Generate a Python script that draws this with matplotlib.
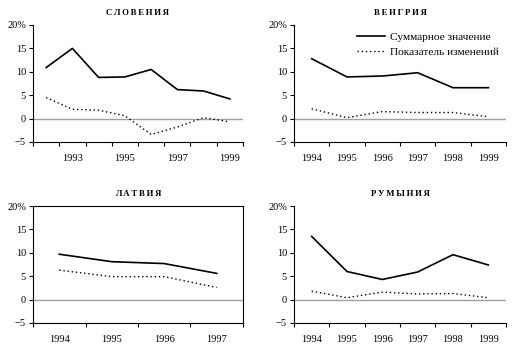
import matplotlib
matplotlib.use("Agg")
import matplotlib.pyplot as plt

plt.rcParams['font.family'] = ['Liberation Serif', 'DejaVu Serif']

slo_years = [1992, 1993, 1994, 1995, 1996, 1997, 1998, 1999]
slo_total = [10.9, 15.0, 8.8, 8.9, 10.5, 6.2, 5.9, 4.2]
slo_change = [4.5, 2.0, 1.8, 0.6, -3.4, -1.8, 0.2, -0.7]
slo_labels = ['1993', '1995', '1997', '1999']

hun_years = [1994, 1995, 1996, 1997, 1998, 1999]
hun_total = [12.8, 8.9, 9.1, 9.8, 6.6, 6.6]
hun_change = [2.1, 0.2, 1.5, 1.3, 1.3, 0.4]

lat_years = [1994, 1995, 1996, 1997]
lat_total = [9.7, 8.1, 7.7, 5.6]
lat_change = [6.3, 4.9, 4.9, 2.6]

rom_years = [1994, 1995, 1996, 1997, 1998, 1999]
rom_total = [13.5, 6.0, 4.3, 5.9, 9.6, 7.4]
rom_change = [1.8, 0.4, 1.6, 1.2, 1.3, 0.4]

titles = ['СЛОВЕНИЯ', 'ВЕНГРИЯ', 'ЛАТВИЯ', 'РУМЫНИЯ']
legend_labels = ['Суммарное значение', 'Показатель изменений']
yticks = [-5, 0, 5, 10, 15, 20]
ytick_labels = ['\u22125', '0', '5', '10', '15', '20%']

W, H = 521, 352
fig = plt.figure(figsize=(W / 100, H / 100), dpi=100)

def rect(l, t, r, b):
    return [l / W, 1 - b / H, (r - l) / W, (b - t) / H]

panels = [
    (rect(33, 25, 243, 142), titles[0], slo_years, slo_total, slo_change, slo_labels),
    (rect(294, 25, 506, 142), titles[1], hun_years, hun_total, hun_change, None),
    (rect(33, 206, 243, 323), titles[2], lat_years, lat_total, lat_change, None),
    (rect(294, 206, 506, 323), titles[3], rom_years, rom_total, rom_change, None),
]

for i, (r, title, years, total, change, labs) in enumerate(panels):
    ax = fig.add_axes(r)
    n = len(years)
    xs = list(range(n))
    ax.axhline(0, color='#a0a0a0', lw=1.0, zorder=1)
    l1, = ax.plot(xs, total, color='black', lw=1.2, zorder=3)
    l2, = ax.plot(xs, change, color='black', lw=1.0, ls=(0, (1, 2)), zorder=3)
    ax.set_xlim(-0.5, n - 0.5)
    ax.set_ylim(-5, 20)
    ax.set_yticks(yticks)
    ax.set_yticklabels(ytick_labels)
    ax.set_xticks([k - 0.5 for k in range(n + 1)])
    ax.set_xticklabels([])
    if labs is None:
        ax.set_xticks(xs, minor=True)
        ax.set_xticklabels([str(y) for y in years], minor=True)
    else:
        pos = [years.index(int(s)) for s in labs]
        ax.set_xticks(pos, minor=True)
        ax.set_xticklabels(labs, minor=True)
    ax.tick_params(axis='x', which='major', length=3, width=0.8, direction='out')
    ax.tick_params(axis='x', which='minor', length=0, labelsize=7.5, pad=8.5)
    ax.tick_params(axis='y', length=3, width=0.8, labelsize=7.5, pad=2)
    for s in ['top', 'right']:
        ax.spines[s].set_visible(i == 2)
    for s in ax.spines.values():
        s.set_linewidth(0.8)
    ax.set_title(' '.join(title).replace(' ', '\u2009'), fontsize=6.3,
                 fontweight='bold', pad=7)
    if i == 1:
        ax.legend([l1, l2], legend_labels, loc='upper right', frameon=False,
                  fontsize=8.2, handlelength=2.4, borderaxespad=0.2,
                  labelspacing=0.45, handletextpad=0.5)

fig.savefig('out.png', dpi=100)
